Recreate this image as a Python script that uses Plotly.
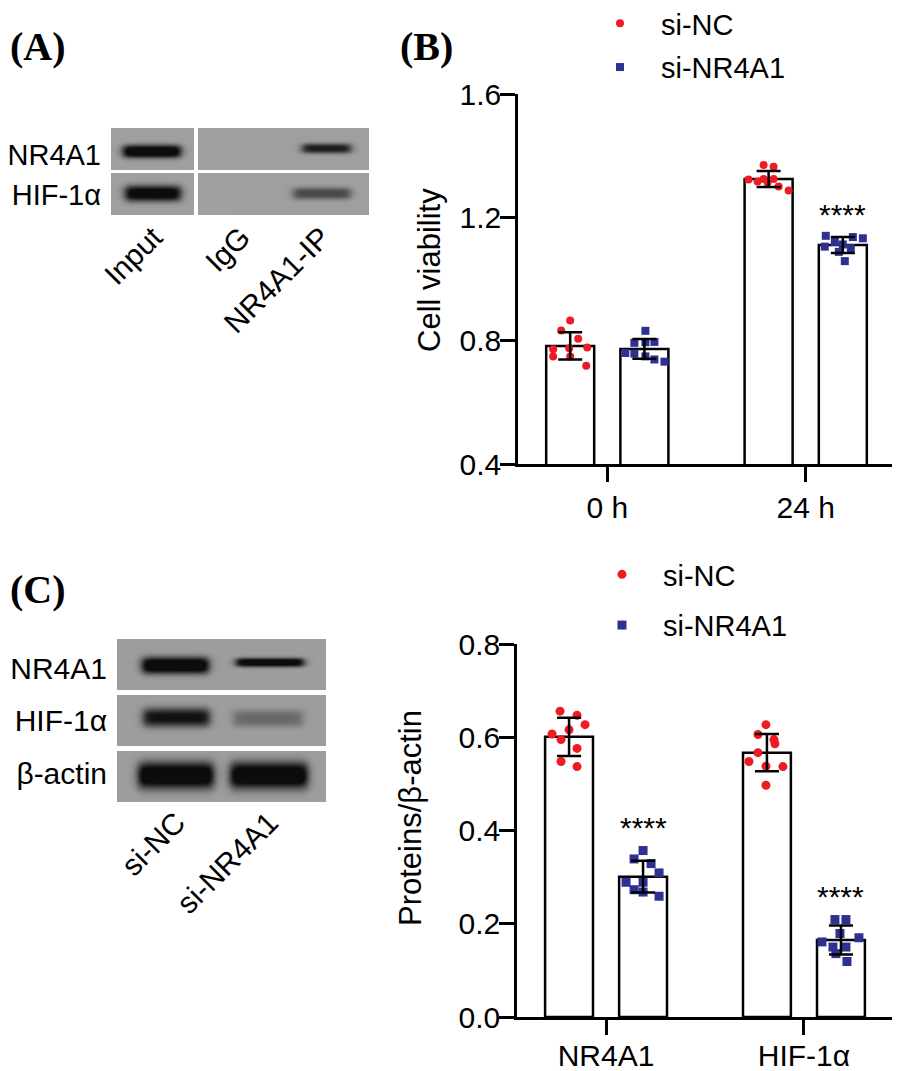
import numpy as np
import plotly.graph_objects as go

# ------------------------------------------------------------------ data
groups = ["si-NC", "si-NR4A1"]

# (B) cell viability
time_points = ["0 h", "24 h"]
viab_mean_nc = [0.783, 1.324]
viab_sd_nc = [0.044, 0.026]
viab_mean_kd = [0.773, 1.110]
viab_sd_kd = [0.032, 0.026]
viab_pts_nc_0h = [0.865, 0.833, 0.806, 0.772, 0.775, 0.778, 0.749, 0.749, 0.719]
viab_pts_kd_0h = [0.832, 0.793, 0.795, 0.796, 0.760, 0.758, 0.749, 0.739, 0.732]
viab_pts_nc_24h = [1.370, 1.364, 1.323, 1.316, 1.324, 1.313, 1.324, 1.300, 1.287]
viab_pts_kd_24h = [1.140, 1.136, 1.132, 1.120, 1.112, 1.105, 1.100, 1.088, 1.058]
viab_ylabel = "Cell viability"

# (C) protein levels
proteins = ["NR4A1", "HIF-1α"]
prot_mean_nc = [0.601, 0.567]
prot_sd_nc = [0.041, 0.040]
prot_mean_kd = [0.301, 0.165]
prot_sd_kd = [0.034, 0.031]
prot_pts_nc_nr4a1 = [0.656, 0.647, 0.627, 0.607, 0.616, 0.595, 0.576, 0.548, 0.537]
prot_pts_nc_hif = [0.627, 0.606, 0.595, 0.586, 0.567, 0.548, 0.538, 0.537, 0.497]
prot_pts_kd_nr4a1 = [0.357, 0.339, 0.329, 0.309, 0.289, 0.289, 0.273, 0.268, 0.259]
prot_pts_kd_hif = [0.209, 0.209, 0.179, 0.161, 0.170, 0.150, 0.150, 0.136, 0.119]
prot_ylabel = "Proteins/β-actin"

sig_label = "****"

# western blots
blotA_rows = ["NR4A1", "HIF-1α"]
blotA_lanes = ["Input", "IgG", "NR4A1-IP"]
blotA_strength = [[1.0, 0.0, 0.72], [0.92, 0.0, 0.48]]
blotC_rows = ["NR4A1", "HIF-1α", "β-actin"]
blotC_lanes = ["si-NC", "si-NR4A1"]
blotC_strength = [[1.0, 0.95], [0.78, 0.30], [1.0, 1.0]]

# ------------------------------------------------------------------ style
PAGE_OFF = 8                      # default page margin around the figure
W, H = 900 - PAGE_OFF, 1071 - PAGE_OFF
FONT = "Liberation Sans, Arial, sans-serif"
RED = "#ED1C24"
BLUE = "#2E3192"
LW = 2.5
OFF = 0.187      # bar offset inside a group (axis units)
BARW = 0.242
PX_PER_CAT = 198.0

# jitter of the individual dots, in screen pixels
JIT = {
    "b_nc0": [0, -9, 8, -17, -1, 17, -17, 0, 16],
    "b_kd0": [1, -10, 1, 10, -19, -10, 1, 10, 20],
    "b_nc24": [-5, 5, -20, -11, -5, -1, 5, 10, 20],
    "b_kd24": [-17, 10, 20, -8, 0, -18, 8, -4, 2],
    "c_nc0": [-9, 8, 16, -17, 0, -8, 8, -8, 8],
    "c_nc1": [-1, -9, 7, 8, -9, -18, -1, 16, -1],
    "c_kd0": [0, -9, 8, 16, -17, 0, -9, 0, 16],
    "c_kd1": [-6, 5, -1, -19, 18, -8, 5, -5, 6],
}


def px_x(x):
    """screen x (window pixels) -> paper fraction"""
    return (x - PAGE_OFF) / W


def px_y(y):
    """screen y (window pixels) -> paper fraction"""
    return 1 - (y - PAGE_OFF) / H


fig = go.Figure()


def add_bar_panel(xa, ya, means_nc, sds_nc, means_kd, sds_kd, pts_nc, pts_kd,
                  jit_nc, jit_kd, msize, legend_name):
    idx = np.arange(len(means_nc))
    for means, sgn in ((means_nc, -1), (means_kd, 1)):
        fig.add_trace(go.Bar(
            x=idx + sgn * OFF, y=means, width=BARW, xaxis=xa, yaxis=ya,
            marker=dict(color="white", line=dict(color="black", width=LW)),
            showlegend=False, hoverinfo="skip"))
    for (pts, jits, col, sym, name, sgn) in (
            (pts_nc, jit_nc, RED, "circle", groups[0], -1),
            (pts_kd, jit_kd, BLUE, "square", groups[1], 1)):
        xs, ys = [], []
        for i, (p, j) in enumerate(zip(pts, jits)):
            xs += list(i + sgn * OFF + np.array(j) / PX_PER_CAT)
            ys += list(p)
        fig.add_trace(go.Scatter(
            x=xs, y=ys, mode="markers", xaxis=xa, yaxis=ya, name=name,
            legend=legend_name, legendgroup=legend_name + name,
            marker=dict(color=col, symbol=sym, size=msize, line=dict(width=0)),
            showlegend=True))
    for means, sds, sgn in ((means_nc, sds_nc, -1), (means_kd, sds_kd, 1)):
        fig.add_trace(go.Scatter(
            x=idx + sgn * OFF, y=means, mode="markers", xaxis=xa, yaxis=ya,
            marker=dict(size=2, opacity=0), showlegend=False, hoverinfo="skip",
            error_y=dict(type="data", array=sds, color="black",
                         thickness=LW, width=12)))


add_bar_panel("x", "y", viab_mean_nc, viab_sd_nc, viab_mean_kd, viab_sd_kd,
              [viab_pts_nc_0h, viab_pts_nc_24h], [viab_pts_kd_0h, viab_pts_kd_24h],
              [JIT["b_nc0"], JIT["b_nc24"]], [JIT["b_kd0"], JIT["b_kd24"]],
              8, "legend")
add_bar_panel("x2", "y2", prot_mean_nc, prot_sd_nc, prot_mean_kd, prot_sd_kd,
              [prot_pts_nc_nr4a1, prot_pts_nc_hif], [prot_pts_kd_nr4a1, prot_pts_kd_hif],
              [JIT["c_nc0"], JIT["c_nc1"]], [JIT["c_kd0"], JIT["c_kd1"]],
              9, "legend2")

# significance marks above the knock-down groups
annotations = []
for i, pts in ((1, viab_pts_kd_24h),):
    annotations.append(dict(x=i + OFF, y=max(pts), xref="x", yref="y", text=sig_label,
                            showarrow=False, yanchor="bottom", yshift=3,
                            font=dict(family=FONT, size=30, color="black")))
for i, pts in enumerate((prot_pts_kd_nr4a1, prot_pts_kd_hif)):
    annotations.append(dict(x=i + OFF, y=max(pts), xref="x2", yref="y2", text=sig_label,
                            showarrow=False, yanchor="bottom", yshift=5,
                            font=dict(family=FONT, size=30, color="black")))


# ------------------------------------------------------------------ blots
def make_blot(width, height, bg, panels_x, rows_y, bands):
    img = np.full((height, width), 255.0)
    for (x0, x1) in panels_x:
        for (y0, y1) in rows_y:
            img[y0:y1 + 1, x0:x1 + 1] = bg
    yy, xx = np.mgrid[0:height, 0:width].astype(float)
    for (x0, x1, yc, hh, amp, (ry0, ry1), (px0, px1)) in bands:
        if amp <= 0:
            continue
        sx = 1 / (1 + np.exp(-(xx - x0) / 2.5)) * 1 / (1 + np.exp(-(x1 - xx) / 2.5))
        sy = np.exp(-np.abs((yy - yc) / hh) ** 2.6)
        inten = np.clip(amp * 1.25 * sx * sy, 0, 1)
        mask = (yy >= ry0) & (yy <= ry1) & (xx >= px0) & (xx <= px1)
        img = np.where(mask, img * (1 - inten) + 12 * inten, img)
    rgb = np.stack([img, img, img], axis=-1).clip(0, 255).astype(np.uint8)
    return rgb


# Blot A: screen origin (111,128), 258 x 87 px
A_panels = [(0, 82), (87, 257)]
A_rows = [(0, 41), (45, 86)]
A_lane_x = [(12, 69), (105, 150), (191, 239)]
A_lane_x_row2 = [(14, 69), (105, 150), (182, 239)]
A_yc = [[23, 0, 20], [65, 0, 65]]
A_hh = [[6.5, 5, 5.0], [8.0, 5, 6.0]]
A_bands = []
for r in range(2):
    for l in range(3):
        lx = A_lane_x if r == 0 else A_lane_x_row2
        pan = A_panels[0] if l == 0 else A_panels[1]
        A_bands.append((lx[l][0], lx[l][1], A_yc[r][l], A_hh[r][l], blotA_strength[r][l],
                        A_rows[r], pan))
imgA = make_blot(258, 87, 160, A_panels, A_rows, A_bands)

# Blot C: screen origin (117,639), 209 x 163 px
C_panels = [(0, 208)]
C_rows = [(0, 50), (56, 106), (112, 162)]
C_lane_x = [[(25, 91), (119, 186)], [(26, 92), (116, 185)], [(21, 96), (113, 190)]]
C_yc = [[26, 23], [78, 79], [136, 136]]
C_hh = [[8.5, 4.5], [9.5, 8.5], [13.5, 13.5]]
C_bands = []
for r in range(3):
    for l in range(2):
        C_bands.append((C_lane_x[r][l][0], C_lane_x[r][l][1], C_yc[r][l], C_hh[r][l],
                        blotC_strength[r][l], C_rows[r], C_panels[0]))
imgC = make_blot(209, 163, 158, C_panels, C_rows, C_bands)

fig.add_trace(go.Image(z=imgA, xaxis="x3", yaxis="y3", hoverinfo="skip"))
fig.add_trace(go.Image(z=imgC, xaxis="x4", yaxis="y4", hoverinfo="skip"))

# ------------------------------------------------------------------ layout
tickfont = dict(family=FONT, size=30, color="black")
titlefont = dict(family=FONT, size=31, color="black")
common_x = dict(showline=True, linewidth=LW, linecolor="black", ticks="outside",
                ticklen=15, tickwidth=LW, tickcolor="black", showgrid=False,
                zeroline=False, tickfont=tickfont, range=[-0.45, 1.45],
                tickvals=[0, 1], automargin=False)
common_y = dict(showline=True, linewidth=LW, linecolor="black", ticks="outside",
                ticklen=15, tickwidth=LW, tickcolor="black", showgrid=False,
                zeroline=False, tickfont=tickfont, automargin=False,
                ticklabelstandoff=-7)

img_axis = dict(showgrid=False, zeroline=False, showline=False, ticks="",
                automargin=False)

legend_font = dict(family=FONT, size=29, color="black")

fig.update_layout(
    width=W, height=H, margin=dict(l=0, r=0, t=0, b=0, autoexpand=False),
    paper_bgcolor="white", plot_bgcolor="white",
    font=dict(family=FONT, color="black"),
    xaxis=dict(common_x, domain=[px_x(518), px_x(895)], anchor="y",
               ticktext=time_points),
    yaxis=dict(common_y, domain=[px_y(464), px_y(94)], anchor="x",
               range=[0.4, 1.6], tickvals=[0.4, 0.8, 1.2, 1.6], tickformat=".1f"),
    xaxis2=dict(common_x, domain=[px_x(517), px_x(893)], anchor="y2",
                ticktext=proteins, ticklabelstandoff=-5),
    yaxis2=dict(common_y, domain=[px_y(1017), px_y(644)], anchor="x2",
                range=[0, 0.8], tickvals=[0, 0.2, 0.4, 0.6, 0.8], tickformat=".1f"),
    xaxis3=dict(img_axis, domain=[px_x(111), px_x(369)], anchor="y3",
                range=[-0.5, 257.5], tickvals=[42, 130, 210], ticktext=blotA_lanes,
                tickangle=-45, ticklabelstandoff=-2,
                tickfont=dict(family=FONT, size=30, color="black")),
    yaxis3=dict(img_axis, domain=[px_y(215), px_y(128)], anchor="x3",
                range=[86.5, -0.5], tickvals=[26, 66], ticktext=blotA_rows,
                ticklabelstandoff=9,
                tickfont=dict(family=FONT, size=29, color="black")),
    xaxis4=dict(img_axis, domain=[px_x(117), px_x(326)], anchor="y4",
                range=[-0.5, 208.5], tickvals=[59, 152], ticktext=blotC_lanes,
                tickangle=-45, ticklabelstandoff=-4,
                tickfont=dict(family=FONT, size=30, color="black")),
    yaxis4=dict(img_axis, domain=[px_y(802), px_y(639)], anchor="x4",
                range=[162.5, -0.5], tickvals=[29, 81, 134], ticktext=blotC_rows,
                ticklabelstandoff=9,
                tickfont=dict(family=FONT, size=30, color="black")),
    legend=dict(x=px_x(579), y=px_y(-2), xanchor="left", yanchor="top",
                font=legend_font, itemwidth=72,
                tracegroupgap=3, traceorder="grouped", bgcolor="rgba(0,0,0,0)"),
    legend2=dict(x=px_x(581), y=px_y(549), xanchor="left", yanchor="top",
                 font=legend_font, itemwidth=72,
                 tracegroupgap=10, traceorder="grouped", bgcolor="rgba(0,0,0,0)"),
    showlegend=True,
)

# y-axis titles
for txt, x, y in ((viab_ylabel, 430, 270), (prot_ylabel, 410, 818)):
    annotations.append(dict(x=px_x(x), y=px_y(y), xref="paper", yref="paper",
                            text=txt, textangle=-90, showarrow=False,
                            xanchor="center", yanchor="middle", font=titlefont))

panel_font = dict(family="Liberation Serif, Times New Roman, serif", size=40,
                  color="black")
for txt, x, y in (("<b>(A)</b>", 8, 47), ("<b>(B)</b>", 398, 47), ("<b>(C)</b>", 8, 589)):
    annotations.append(dict(x=px_x(x), y=px_y(y), xref="paper", yref="paper",
                            text=txt, showarrow=False, xanchor="left",
                            yanchor="middle", font=panel_font))

fig.update_layout(annotations=annotations)
fig.write_html("out.html")
